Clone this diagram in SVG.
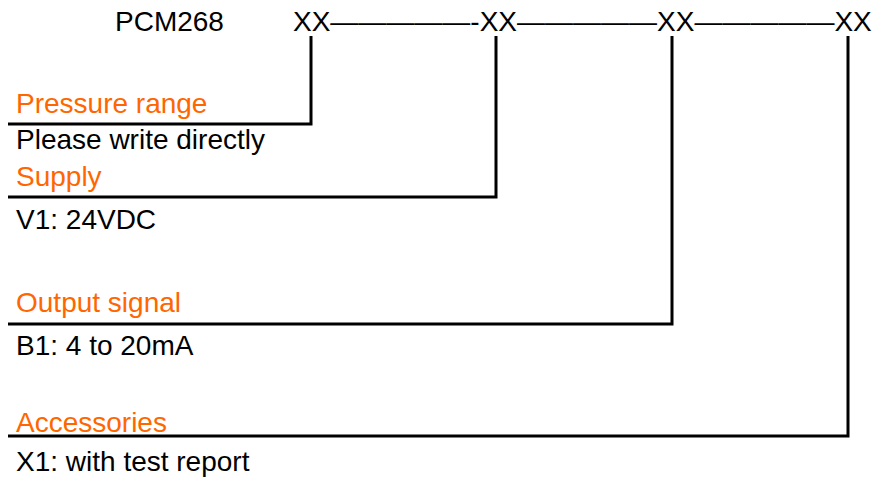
<svg xmlns="http://www.w3.org/2000/svg" width="875" height="478" viewBox="0 0 875 478">
<style>
text{font-family:"Liberation Sans",Arial,sans-serif;font-size:28px;fill:#000}
.o{fill:#FF6600}
.c{fill:none;stroke:#000;stroke-width:3}
</style>
<rect width="875" height="478" fill="#fff"/>
<g id="header">
<text x="115" y="31">PCM268</text>
<text x="293" y="31">XX—————-XX—————XX—————XX</text>
</g>
<g id="connectors">
<polyline class="c" points="311,36 311,124 8,124"/>
<polyline class="c" points="496,36 496,197 8,197"/>
<polyline class="c" points="672,36 672,324 8,324"/>
<polyline class="c" points="848,36 848,436 8,436"/>
</g>
<g id="pressure">
<text class="o" x="16" y="113">Pressure range</text>
<text x="16" y="149">Please write directly</text>
</g>
<g id="supply">
<text class="o" x="16" y="186">Supply</text>
<text x="16" y="229">V1: 24VDC</text>
</g>
<g id="output">
<text class="o" x="16" y="312">Output signal</text>
<text x="16" y="355">B1: 4 to 20mA</text>
</g>
<g id="accessories">
<text class="o" x="16" y="432">Accessories</text>
<text x="16" y="471">X1: with test report</text>
</g>
</svg>
